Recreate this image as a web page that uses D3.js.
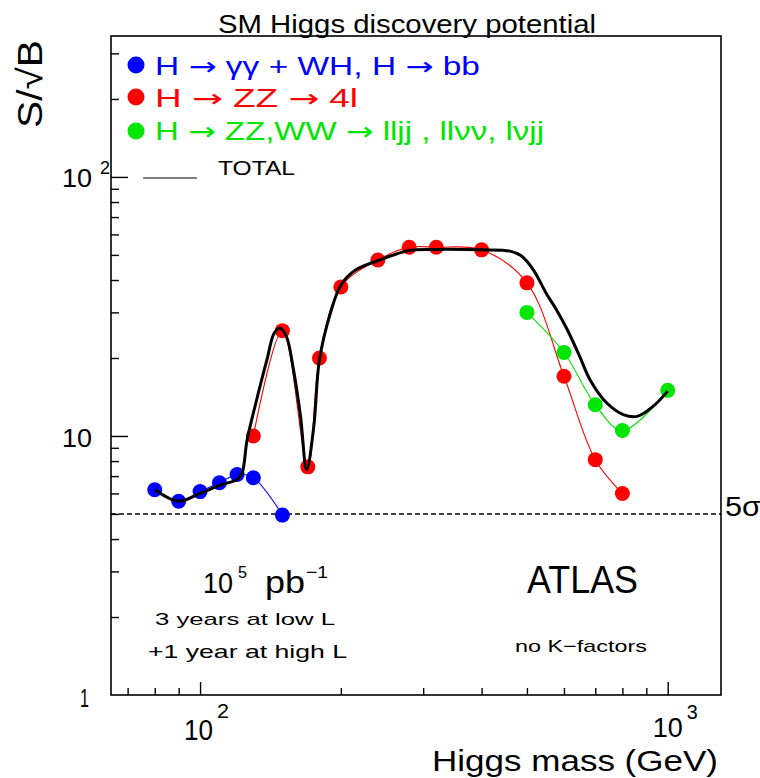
<!DOCTYPE html>
<html>
<head>
<meta charset="utf-8">
<script src="https://cdn.jsdelivr.net/npm/d3@7"></script>
<style>
  html, body { margin: 0; padding: 0; background: #fff; }
  svg { display: block; }
</style>
</head>
<body>
<svg id="chart" width="760" height="778"></svg>
<script>
// Higgs mass (GeV) and S/sqrt(B) per channel
const gammaMass = [80, 90, 100, 110, 120, 130, 150];
const gammaSig  = [6.2, 5.6, 6.1, 6.6, 7.1, 6.9, 4.95];

const zz4lMass = [130, 150, 170, 180, 200, 240, 280, 320, 400, 500, 600, 700, 800];
const zz4lSig  = [10.0, 25.5, 7.6, 20.0, 37.6, 47.8, 53.5, 53.5, 52.3, 39.0, 17.0, 8.1, 6.0];

const llMass = [500, 600, 700, 800, 1000];
const llSig  = [30.0, 21.0, 13.2, 10.5, 15.0];

// combined significance of all channels
const totalMass = [80, 90, 100, 110, 120, 123, 126, 132, 139, 144, 148, 153, 158, 164, 169, 175, 180, 190, 200, 215,
                   240, 280, 320, 400, 460, 486, 516, 550, 579, 610, 649, 682, 741, 803, 860, 930, 1000];
const totalSig  = [6.2, 5.6, 6.0, 6.45, 6.8, 7.2, 9.6, 13.7, 19.7, 24.9, 26.1, 24.2, 18.5, 11.9, 7.4, 10.8, 19.7, 29.8, 38.2, 43.7,
                   47.5, 52.0, 52.5, 52.3, 51.7, 49.6, 43.8, 35.5, 30.6, 25.7, 20.2, 16.5, 13.4, 12.1, 11.9, 13.0, 14.9];

const discoveryLevel = 5;

const xMajorTicks = [100, 1000];
const xMinorTicks = [70, 80, 90, 200, 300, 400, 500, 600, 700, 800, 900];
const yMajorTicks = [10, 100];
const yMinorTicks = [2, 3, 4, 5, 6, 7, 8, 9, 20, 30, 40, 50, 60, 70, 80, 90, 200, 300];

const FONT = "'Liberation Sans', Arial, Helvetica, sans-serif";
const ARROW_FONT = "'DejaVu Sans', sans-serif";
const svg = d3.select("#chart");

const plot = { left: 111, right: 721, top: 36, bottom: 695 };

const x = d3.scaleLog().domain([64.5, 1300]).range([plot.left, plot.right]);
const y = d3.scaleLog().domain([1, 350]).range([plot.bottom, plot.top]);

// text helper: fixed size, stretched to a given run length
function txt(str, px, py, size, len, opts = {}) {
  const t = svg.append("text")
    .attr("x", px).attr("y", py)
    .attr("font-family", FONT)
    .attr("font-size", size)
    .attr("fill", opts.fill || "#000")
    .attr("text-anchor", opts.anchor || "start")
    .text(str);
  if (len) t.attr("textLength", len).attr("lengthAdjust", "spacingAndGlyphs");
  if (opts.transform) t.attr("transform", opts.transform);
  return t;
}

// ---- axes (ticks point into the frame) ----
function styleAxis(g) {
  g.select(".domain").remove();
  g.selectAll(".tick line").attr("stroke", "#000").attr("stroke-width", 1.4);
  g.selectAll(".tick text").remove();
}
svg.append("g").attr("transform", `translate(0,${plot.bottom})`)
  .call(d3.axisBottom(x).tickValues(xMinorTicks).tickSizeInner(-7).tickSizeOuter(0).tickFormat(""))
  .call(styleAxis);
svg.append("g").attr("transform", `translate(0,${plot.bottom})`)
  .call(d3.axisBottom(x).tickValues(xMajorTicks).tickSizeInner(-13).tickSizeOuter(0).tickFormat(""))
  .call(styleAxis);
svg.append("g").attr("transform", `translate(${plot.left},0)`)
  .call(d3.axisLeft(y).tickValues(yMinorTicks).tickSizeInner(-8).tickSizeOuter(0).tickFormat(""))
  .call(styleAxis);
svg.append("g").attr("transform", `translate(${plot.left},0)`)
  .call(d3.axisLeft(y).tickValues(yMajorTicks).tickSizeInner(-17).tickSizeOuter(0).tickFormat(""))
  .call(styleAxis);

// frame
svg.append("rect")
  .attr("x", plot.left).attr("y", plot.top)
  .attr("width", plot.right - plot.left).attr("height", plot.bottom - plot.top)
  .attr("fill", "none").attr("stroke", "#000").attr("stroke-width", 1.6);

// ---- tick labels ----
txt("10", 62, y(10) + 11, 26, 30);
txt("10", 62, y(100) + 10, 26, 30);
txt("2", 100, y(100) - 3, 19, 10);
txt("1", 80, y(1) + 12, 26, 9);

txt("10", x(100) - 16, 740, 29, 29);
txt("2", x(100) + 17, 718, 21, 12);
txt("10", x(1000) - 15, 737, 28, 30);
txt("3", x(1000) + 19, 719, 21, 11);

// axis titles
txt("Higgs mass (GeV)", 432, 771, 30, 286);
txt("S/\u221AB", 0, 0, 35, 88, { anchor: "middle", transform: "translate(42,84) rotate(-90)" });
txt("SM Higgs discovery potential", 218, 33, 25, 378);

// ---- 5 sigma discovery line ----
svg.append("line")
  .attr("x1", plot.left).attr("x2", plot.right)
  .attr("y1", y(discoveryLevel)).attr("y2", y(discoveryLevel))
  .attr("stroke", "#000").attr("stroke-width", 1.4)
  .attr("stroke-dasharray", "5,3");
txt("5\u03C3", 725, y(discoveryLevel) + 2, 28, 36);

// ---- channel curves and points ----
const pairs = (m, s) => m.map((v, i) => [v, s[i]]);
const line = d3.line()
  .x(d => x(d[0])).y(d => y(d[1]))
  .curve(d3.curveCatmullRom.alpha(0.5));

const channels = [
  { data: pairs(gammaMass, gammaSig), color: "#0000ff" },
  { data: pairs(zz4lMass, zz4lSig),   color: "#ff0000" },
  { data: pairs(llMass, llSig),       color: "#00e600" }
];

channels.forEach(c => {
  svg.append("path").datum(c.data)
    .attr("d", line).attr("fill", "none")
    .attr("stroke", c.color).attr("stroke-width", 1.1);
});
channels.forEach(c => {
  svg.append("g").selectAll("circle").data(c.data).join("circle")
    .attr("cx", d => x(d[0])).attr("cy", d => y(d[1]))
    .attr("r", 7.5).attr("fill", c.color);
});

// combined curve
svg.append("path").datum(pairs(totalMass, totalSig))
  .attr("d", line).attr("fill", "none")
  .attr("stroke", "#000").attr("stroke-width", 3)
  .attr("stroke-linejoin", "round");

// ---- legend (arrows set in a font with long arrow glyphs) ----
const legend = [
  { parts: ["H ", "\u2192", " \u03B3\u03B3 + WH, H ", "\u2192", " bb"], color: "#0000ff", cy: 65, base: 75, len: 325 },
  { parts: ["H ", "\u2192", " ZZ ", "\u2192", " 4l"], color: "#ff0000", cy: 97, base: 107, len: 203 },
  { parts: ["H ", "\u2192", " ZZ,WW ", "\u2192", " lljj , ll\u03BD\u03BD, l\u03BDjj"], color: "#00e600", cy: 131, base: 140, len: 389 }
];
legend.forEach(l => {
  svg.append("circle").attr("cx", 136).attr("cy", l.cy).attr("r", 8.5).attr("fill", l.color);
  const t = svg.append("text")
    .attr("x", 155).attr("y", l.base)
    .attr("font-family", FONT).attr("font-size", 25).attr("fill", l.color)
    .attr("textLength", l.len).attr("lengthAdjust", "spacingAndGlyphs")
    .attr("xml:space", "preserve");
  l.parts.forEach(p => {
    const s = t.append("tspan").text(p);
    if (p === "\u2192") s.attr("font-family", ARROW_FONT);
  });
});
svg.append("line")
  .attr("x1", 143).attr("x2", 197).attr("y1", 178).attr("y2", 178)
  .attr("stroke", "#555").attr("stroke-width", 1.5);
txt("TOTAL", 218, 175, 21, 77);

// ---- annotations ----
txt("10", 203, 593, 29, 30);
txt("5", 238, 578, 16, 9);
txt("pb", 265, 593, 32, 40);
txt("\u22121", 306, 578, 17, 22);
txt("3 years at low L", 155, 625, 17, 180);
txt("+1 year at high L", 148, 658, 18.5, 199);
txt("ATLAS", 527, 593, 39, 111);
txt("no K\u2212factors", 515, 652, 17, 132);
</script>
</body>
</html>
